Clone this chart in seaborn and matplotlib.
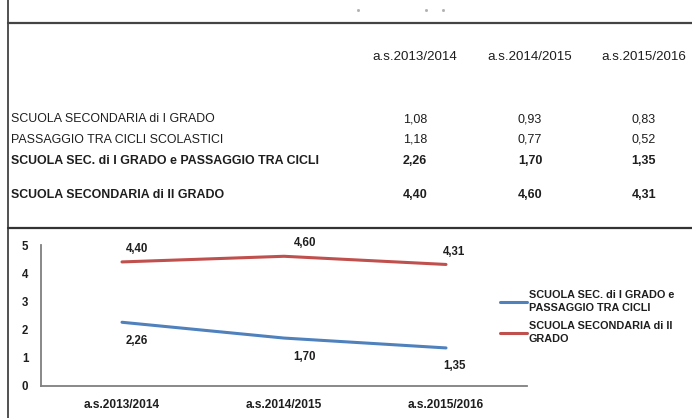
import pandas as pd
import matplotlib.pyplot as plt
import matplotlib.lines as mlines
import seaborn as sns

# data
years = ['a.s.2013/2014', 'a.s.2014/2015', 'a.s.2015/2016']
row_labels = ['SCUOLA SECONDARIA di I GRADO',
              'PASSAGGIO TRA CICLI SCOLASTICI',
              'SCUOLA SEC. di I GRADO e PASSAGGIO TRA CICLI',
              'SCUOLA SECONDARIA di II GRADO']
sec1 = [1.08, 0.93, 0.83]
passaggio = [1.18, 0.77, 0.52]
sec1_pass = [2.26, 1.70, 1.35]
sec2 = [4.40, 4.60, 4.31]
series_names = ['SCUOLA SEC. di I GRADO e\nPASSAGGIO TRA CICLI',
                'SCUOLA SECONDARIA di II\nGRADO']

def fmt(v):
    return f"{v:.2f}".replace('.', ',')

sns.set_style("white")
plt.rcParams['font.family'] = ['Liberation Sans', 'DejaVu Sans']
TXT = '#1e1e1e'

W, H = 692, 418
fig = plt.figure(figsize=(W / 100, H / 100), dpi=100)

def px(x, y):
    return x / W, 1 - y / H

# --- borders of the scanned page ---
fig.add_artist(mlines.Line2D([8 / W, 8 / W], [0, 1], color='#333333', lw=1.2))
fig.add_artist(mlines.Line2D([8 / W, 1], [1 - 23 / H] * 2, color='#444444', lw=1.6))
fig.add_artist(mlines.Line2D([8 / W, 1], [1 - 228 / H] * 2, color='#333333', lw=1.6))
# remnants of the cut-off title
for dx in (358, 426, 443):
    fig.add_artist(mlines.Line2D([dx / W], [1 - 10 / H], marker='s', ms=1.0,
                                 color='#b0b0b0', lw=0))

# --- table ---
col_x = [415, 530, 644]
row_y = [119, 140, 161, 195]
rows = [sec1, passaggio, sec1_pass, sec2]
for cx, yr in zip(col_x, years):
    fig.text(*px(cx, 57), yr, ha='center', va='center', fontsize=9.6, color=TXT)
for i, (lab, vals, ry) in enumerate(zip(row_labels, rows, row_y)):
    w = 'bold' if i >= 2 else 'normal'
    fig.text(*px(11, ry), lab, ha='left', va='center', fontsize=8.9, color=TXT, fontweight=w)
    for cx, v in zip(col_x, vals):
        fig.text(*px(cx, ry), fmt(v), ha='center', va='center', fontsize=9, color=TXT, fontweight=w)

# --- chart ---
df = pd.DataFrame({
    'anno': years * 2,
    'valore': sec1_pass + sec2,
    'serie': [series_names[0]] * 3 + [series_names[1]] * 3,
})
ax = fig.add_axes([41 / W, 1 - 386 / H, 486 / W, 141 / H])
palette = {series_names[0]: '#4F81BD', series_names[1]: '#C0504D'}
sns.lineplot(data=df, x='anno', y='valore', hue='serie', palette=palette,
             lw=2.2, ax=ax, sort=False)

label_dx = [11, 15, 6]
for i, v in enumerate(sec2):
    ax.annotate(fmt(v), (i, v), xytext=(label_dx[i], 5), textcoords='offset points',
                ha='center', va='bottom', fontsize=8.3, fontweight='bold', color=TXT)
for i, v in enumerate(sec1_pass):
    ax.annotate(fmt(v), (i, v), xytext=(label_dx[i], -9), textcoords='offset points',
                ha='center', va='top', fontsize=8.3, fontweight='bold', color=TXT)

ax.set_xlim(-0.5, 2.5)
ax.set_ylim(0, 5)
ax.set_yticks(range(6))
ax.set_xticks([-0.5, 0.5, 1.5, 2.5])
ax.set_xticklabels([])
ax.set_xticks([0, 1, 2], minor=True)
ax.set_xticklabels(years, minor=True)
ax.tick_params(axis='x', which='minor', length=0, pad=9, labelsize=8.6, labelcolor=TXT)
ax.tick_params(axis='x', which='major', length=4, direction='out', color='#7f7f7f')
ax.tick_params(axis='y', length=4, direction='out', color='#7f7f7f', labelsize=8.3,
               labelcolor=TXT, pad=5)
for lbl in ax.get_xticklabels(minor=True) + ax.get_yticklabels():
    lbl.set_fontweight('bold')
ax.set_xlabel('')
ax.set_ylabel('')
sns.despine(ax=ax)
ax.spines['left'].set_color('#7f7f7f')
ax.spines['bottom'].set_color('#7f7f7f')
ax.spines['left'].set_linewidth(1.3)
ax.spines['bottom'].set_linewidth(1.3)
ax.patch.set_alpha(0)

leg = ax.legend(loc='upper left', bbox_to_anchor=px(500, 290), bbox_transform=fig.transFigure,
                frameon=False, fontsize=7.8, handlelength=2.5, handletextpad=0.15,
                labelspacing=0.75, borderpad=0, borderaxespad=0)
for t in leg.get_texts():
    t.set_fontweight('bold')
    t.set_color(TXT)
    t.set_linespacing(1.35)

fig.savefig('out.png', dpi=100)
